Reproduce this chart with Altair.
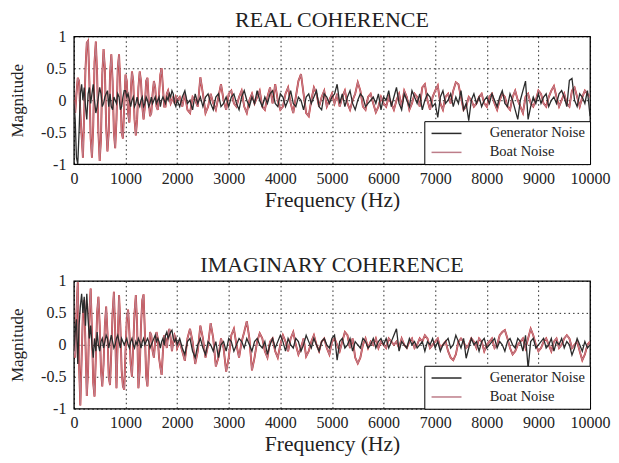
import altair as alt
import pandas as pd

FREQ_LOW = list(range(0, 2001, 25))
FREQ_HIGH = list(range(2050, 10001, 50))
FREQ = FREQ_LOW + FREQ_HIGH

SERIES = ["Generator Noise", "Boat Noise"]
COLORS = ["#2b2b2b", "#bd7d89"]

# ---- REAL COHERENCE ----
REAL_BOAT_LOW = [
    0.0, -0.2, 0.1, 0.35, 0.3, -0.2, -0.55, -0.9, -0.2, 0.5,
    0.9, 0.93, 0.3, -0.6, -0.9, -0.4, 0.6, 0.92, 0.4, -0.5,
    -0.95, -0.6, 0.4, 0.8, 0.5, -0.4, -0.8, -0.5, 0.4, 0.72,
    0.3, -0.5, -0.75, -0.3, 0.5, 0.72, 0.2, -0.5, -0.6, -0.1,
    0.4, 0.3, -0.2, -0.35, 0.1, 0.45, 0.3, -0.3, -0.55, -0.3,
    0.2, 0.45, 0.3, -0.1, -0.3, -0.1, 0.3, 0.35, 0.0, -0.25,
    -0.2, 0.1, 0.3, 0.2, -0.1, -0.15, 0.1, 0.4, 0.5, 0.2,
    -0.1, -0.1, 0.1, 0.15, 0.05, -0.05, 0.0, 0.05, -0.05, 0.05,
    0.0,
]
REAL_BOAT_HIGH = [
    0.05, -0.1, 0.1, -0.15, -0.2, 0.05, 0.0, -0.1, 0.36, 0.1, -0.2, -0.1, 0.1, -0.05, -0.15, 0.05, 0.25, 0.0, -0.15, 0.1,
    0.15, -0.05, -0.1, 0.05, 0.15, -0.1, -0.2, 0.0, 0.1, -0.05, 0.05, 0.15, -0.1, -0.15, 0.05, 0.2, -0.05, 0.25, 0.0, -0.15,
    -0.1, 0.1, 0.2, -0.05, -0.2, 0.05, 0.3, 0.41, 0.1, -0.2, -0.25, 0.0, 0.2, 0.1, -0.1, 0.05, 0.15, -0.1, 0.0, 0.1,
    -0.05, 0.1, -0.1, 0.05, 0.15, -0.05, -0.15, 0.0, 0.1, 0.28, 0.15, -0.1, -0.15, 0.05, 0.1, -0.05, -0.19, -0.1, 0.05, -0.05,
    -0.1, 0.05, -0.05, -0.15, 0.0, 0.1, -0.1, 0.15, 0.05, -0.15, -0.05, 0.1, 0.05, -0.1, 0.2, 0.25, 0.0, -0.15, 0.05, 0.15,
    0.23, -0.05, -0.15, 0.05, 0.1, -0.05, 0.15, 0.28, 0.25, 0.05, -0.15, -0.1, 0.05, 0.0, -0.1, -0.05, 0.05, 0.1, -0.05, -0.1,
    0.05, 0.1, -0.05, -0.15, 0.0, 0.1, 0.05, -0.1, -0.15, 0.05, 0.15, 0.0, -0.1, -0.2, 0.05, 0.1, -0.05, -0.1, 0.0, 0.15,
    0.1, -0.05, -0.1, 0.05, 0.15, 0.22, 0.05, -0.1, 0.0, 0.1, -0.05, -0.1, 0.15, 0.2, 0.05, -0.1, 0.05, 0.15, 0.1, 0.05,
]
REAL_GEN_LOW = [
    0.0, -0.3, -0.9, -1.0, -0.5, 0.1, 0.25, 0.0, 0.2, -0.1,
    -0.3, 0.1, 0.2, -0.05, 0.1, 0.25, 0.0, -0.2, -0.1, 0.05,
    0.2, 0.1, -0.1, -0.05, 0.05, 0.1, 0.15, -0.1, 0.1, -0.1,
    -0.15, 0.05, 0.0, -0.05, 0.1, 0.05, -0.15, -0.1, 0.05, 0.15,
    0.15, 0.05, 0.1, 0.0, -0.1, 0.0, 0.05, -0.1, -0.05, 0.05,
    -0.05, -0.1, 0.0, 0.05, -0.1, -0.05, 0.05, 0.0, -0.1, -0.05,
    0.05, -0.05, 0.0, 0.05, -0.05, 0.0, 0.05, -0.1, 0.0, 0.05,
    0.0, -0.05, 0.05, 0.0, 0.1, 0.05, 0.15, 0.1, -0.05, -0.1,
    0.0,
]
REAL_GEN_HIGH = [
    -0.1, 0.05, 0.15, -0.05, 0.0, -0.15, 0.1, -0.05, 0.05, -0.1, 0.05, 0.1, -0.05, -0.15, 0.05, 0.1, -0.1, -0.05, 0.05, -0.1,
    0.05, 0.1, -0.05, -0.15, 0.05, 0.15, 0.0, -0.1, 0.05, -0.05, 0.15, 0.0, -0.1, 0.05, -0.05, 0.1, 0.15, -0.05, -0.1, 0.1,
    0.05, -0.1, 0.0, 0.15, -0.05, -0.1, 0.05, 0.0, -0.15, 0.05, 0.1, -0.05, 0.05, 0.15, -0.1, -0.15, 0.1, 0.05, -0.05, 0.05,
    0.1, 0.25, -0.05, 0.1, -0.1, 0.05, 0.15, -0.05, -0.15, 0.0, 0.1, 0.05, -0.1, -0.05, 0.0, 0.05, -0.05, 0.1, -0.15, 0.05,
    0.0, 0.15, -0.1, 0.05, 0.2, -0.05, -0.15, 0.1, 0.0, -0.1, 0.15, 0.05, -0.05, 0.1, -0.15, 0.0, 0.1, 0.05, -0.1, -0.05,
    -0.27, 0.05, 0.15, -0.05, 0.0, 0.1, -0.1, 0.05, -0.05, 0.15, -0.15, -0.05, -0.32, 0.0, 0.1, -0.05, 0.05, -0.1, 0.0, 0.05,
    -0.05, 0.1, 0.0, -0.1, 0.05, 0.15, -0.05, -0.1, 0.1, 0.0, -0.15, -0.3, 0.0, 0.15, 0.3, -0.3, -0.1, 0.05, -0.05, 0.1,
    -0.05, 0.05, 0.1, -0.1, 0.0, 0.05, -0.05, 0.1, 0.15, 0.05, -0.1, 0.31, 0.34, 0.0, -0.1, 0.1, 0.05, -0.05, 0.15, -0.25,
]

# ---- IMAGINARY COHERENCE ----
IMAG_BOAT_LOW = [
    0.0, -0.2, 0.5, 0.98, -0.3, -0.95, -0.2, 0.5, 0.7, 0.0,
    -0.8, -0.4, 0.5, 0.88, 0.2, -0.6, -0.81, -0.2, 0.5, 0.75,
    0.3, -0.4, -0.65, -0.3, 0.3, 0.6, 0.2, -0.5, -0.63, -0.1,
    0.5, 0.83, 0.2, -0.68, 0.1, 0.78, 0.3, -0.4, -0.65, -0.7,
    -0.1, 0.4, 0.55, 0.2, -0.3, -0.5, 0.0, 0.5, 0.78, 0.3,
    -0.68, -0.4, 0.3, 0.7, 0.79, 0.2, -0.5, -0.65, -0.2, 0.2,
    0.15, -0.1, -0.2, 0.05, 0.2, 0.1, -0.2, -0.35, -0.47, -0.1,
    0.15, 0.1, -0.05, 0.15, 0.25, 0.1, -0.1, 0.05, 0.15, 0.1,
    -0.05,
]
IMAG_BOAT_HIGH = [
    0.05, -0.1, -0.25, 0.1, 0.25, 0.05, -0.3, -0.1, 0.3, 0.1, -0.2, 0.0, 0.34, 0.1, -0.34, -0.2, 0.1, -0.05, -0.42, -0.2,
    0.15, 0.25, 0.0, -0.2, 0.05, 0.2, 0.37, 0.1, -0.4, -0.2, 0.05, 0.18, 0.1, -0.1, -0.2, 0.05, 0.1, -0.1, -0.2, 0.0,
    0.15, 0.05, -0.1, 0.1, 0.2, 0.0, -0.15, -0.05, 0.1, -0.18, -0.1, 0.05, 0.15, 0.0, -0.1, 0.05, 0.1, -0.05, -0.15, 0.05,
    0.1, 0.0, -0.1, 0.05, 0.2, 0.15, -0.05, 0.1, -0.2, -0.29, -0.2, 0.0, 0.1, -0.05, 0.05, 0.0, 0.1, -0.05, 0.05, 0.0,
    -0.05, 0.1, 0.05, 0.0, 0.05, -0.05, 0.1, 0.0, -0.05, 0.05, 0.1, -0.05, 0.0, 0.1, 0.05, 0.15, 0.1, -0.05, 0.0, 0.05,
    0.1, -0.05, 0.0, 0.05, -0.1, -0.2, -0.24, -0.15, 0.05, 0.1, 0.05, -0.05, 0.0, 0.1, 0.05, -0.05, 0.1, 0.05, -0.1, 0.0,
    0.05, 0.1, -0.05, 0.0, 0.15, 0.2, 0.23, 0.1, -0.05, -0.15, -0.1, 0.0, 0.05, 0.1, -0.05, 0.1, 0.25, 0.15, 0.0, -0.1,
    -0.05, 0.05, 0.1, 0.0, -0.1, 0.05, 0.1, -0.05, 0.0, 0.1, 0.15, 0.1, -0.05, 0.0, 0.05, -0.1, -0.24, -0.15, 0.0, 0.05,
]
IMAG_GEN_LOW = [
    -0.1, 0.2, 0.4, -0.3, 0.3, 0.6, 0.8, 0.5, 0.75, 0.3,
    0.8, 0.4, 0.1, 0.3, 0.0, -0.2, 0.1, -0.1, 0.2, 0.0,
    -0.1, 0.05, 0.1, -0.05, 0.05, 0.15, 0.1, -0.05, 0.05, 0.15,
    0.05, -0.05, 0.0, 0.1, 0.15, 0.05, -0.05, 0.1, 0.05, 0.0,
    0.05, 0.1, 0.0, -0.05, 0.05, 0.1, 0.0, -0.05, 0.05, 0.0,
    0.1, 0.05, -0.05, 0.05, 0.1, 0.0, 0.05, 0.1, 0.05, -0.05,
    0.0, 0.05, 0.1, 0.15, 0.05, 0.1, 0.05, -0.05, 0.05, 0.1,
    0.0, 0.15, 0.2, 0.1, 0.15, 0.2, 0.23, 0.1, 0.05, 0.1,
    0.0,
]
IMAG_GEN_HIGH = [
    0.1, -0.05, -0.15, 0.05, 0.1, -0.1, -0.2, 0.0, 0.1, -0.05, -0.15, 0.05, 0.0, -0.1, 0.05, -0.2, 0.0, 0.05, -0.1, 0.1,
    0.05, -0.1, 0.0, 0.1, 0.05, -0.05, 0.1, 0.0, -0.1, 0.05, 0.1, 0.0, -0.05, 0.05, -0.15, 0.0, 0.1, -0.05, 0.05, 0.15,
    0.05, -0.1, 0.1, 0.0, -0.05, 0.1, 0.05, -0.1, 0.0, 0.15, 0.05, -0.05, 0.1, 0.0, -0.1, 0.05, 0.1, 0.0, -0.05, 0.1,
    0.15, -0.24, 0.05, 0.1, -0.05, 0.0, 0.1, -0.1, 0.05, 0.0, -0.05, 0.1, 0.05, -0.05, 0.0, 0.1, -0.05, 0.05, 0.1, 0.0,
    0.1, -0.05, 0.05, 0.15, 0.25, -0.1, 0.05, 0.0, -0.05, 0.1, 0.0, 0.05, -0.05, 0.0, 0.05, -0.1, 0.05, 0.0, 0.1, -0.05,
    0.05, -0.1, 0.0, 0.05, 0.1, -0.05, 0.0, 0.15, 0.05, -0.05, 0.1, -0.21, -0.05, 0.1, 0.0, 0.05, -0.1, 0.05, 0.1, -0.05,
    0.0, 0.05, 0.1, -0.05, 0.05, 0.0, -0.1, 0.05, 0.1, 0.0, -0.05, 0.1, 0.05, -0.1, 0.15, -0.37, 0.05, 0.1, -0.05, 0.0,
    0.05, 0.1, -0.05, 0.0, 0.1, -0.1, 0.05, 0.0, 0.1, -0.05, 0.05, 0.0, -0.16, -0.05, 0.1, 0.0, -0.1, 0.05, -0.05, 0.0,
]

X_TICKS = list(range(0, 10001, 1000))
Y_TICKS = [-1, -0.5, 0, 0.5, 1]
FONT = "Liberation Serif"


def panel(title, gen, boat):
    n = len(FREQ)
    df = pd.DataFrame({
        "freq": FREQ + FREQ,
        "value": boat + gen,
        "series": [SERIES[1]] * n + [SERIES[0]] * n,
    })
    base = alt.Chart(df)
    x = alt.X("freq:Q", title="Frequency (Hz)",
              scale=alt.Scale(domain=[0, 10000], nice=False, zero=False),
              axis=alt.Axis(values=X_TICKS, format="d", labelFlush=False))
    y = alt.Y("value:Q", title="Magnitude",
              scale=alt.Scale(domain=[-1, 1], nice=False),
              axis=alt.Axis(values=Y_TICKS,
                            labelExpr="datum.value == 0 ? '0' : (datum.value < 0 ? '-' : '') + toString(abs(datum.value))"))
    red = base.transform_filter(alt.datum.series == SERIES[1]).mark_line(
        color="#cc2a2a", strokeWidth=1.9, clip=True).encode(x=x, y=y)
    lines = base.mark_line(strokeWidth=1.3, clip=True).encode(
        x=x, y=y,
        color=alt.Color("series:N",
                        scale=alt.Scale(domain=SERIES, range=COLORS),
                        legend=alt.Legend(title=None, orient="bottom-right", offset=0,
                                          strokeColor="black", fillColor="white",
                                          padding=5, symbolType="M-3,0H3", symbolSize=100,
                                          symbolOffset=10, symbolFillColor="transparent",
                                          symbolStrokeWidth=1.5, labelFont=FONT,
                                          labelFontSize=14.5, labelOffset=36,
                                          rowPadding=4, labelColor="#222")),
    )
    return alt.layer(red, lines).properties(width=517, height=128, title=title)


top = panel("REAL COHERENCE", REAL_GEN_LOW + REAL_GEN_HIGH, REAL_BOAT_LOW + REAL_BOAT_HIGH)
bottom = panel("IMAGINARY COHERENCE", IMAG_GEN_LOW + IMAG_GEN_HIGH, IMAG_BOAT_LOW + IMAG_BOAT_HIGH)

chart = (
    alt.vconcat(top, bottom, spacing=41)
    .resolve_scale(color="independent")
    .resolve_legend(color="independent")
    .properties(padding=0)
    .configure_view(stroke="black", strokeWidth=1.3)
    .configure_axis(labelFont=FONT, labelFontSize=16, labelColor="#222",
                    titleFont=FONT, titleFontSize=21.5, titleFontWeight="normal", titleColor="#222",
                    grid=True, gridColor="black", gridDash=[1.5, 3], gridWidth=1, gridOpacity=0.85,
                    ticks=False, domain=False, labelPadding=6)
    .configure_axisX(titlePadding=3)
    .configure_axisY(titleFontSize=17, titlePadding=14, labelPadding=8)
    .configure_title(font=FONT, fontSize=22, fontWeight="normal", color="#222", offset=-4)
)

chart.save("out.html", embed_options={"renderer": "svg", "actions": False})
